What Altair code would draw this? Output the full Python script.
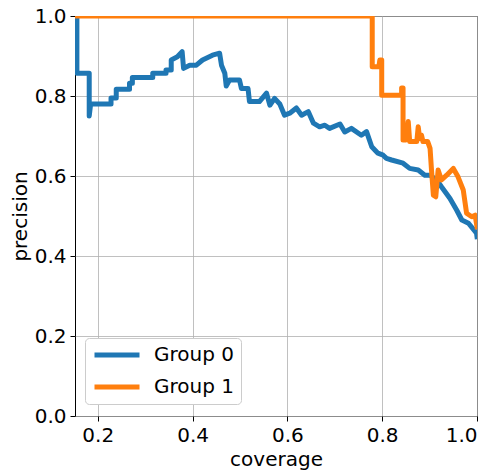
import altair as alt
import pandas as pd

# Group 0 (blue) curve
g0_cov = [0.156, 0.156, 0.182, 0.182, 0.185, 0.228, 0.228, 0.239, 0.239, 0.267, 0.267, 0.273, 0.273,
          0.316, 0.316, 0.344, 0.344, 0.355, 0.355, 0.368, 0.378, 0.381, 0.394, 0.408, 0.421, 0.442,
          0.457, 0.461, 0.468, 0.471, 0.478, 0.499, 0.503, 0.517, 0.520, 0.541, 0.556, 0.563, 0.573,
          0.584, 0.594, 0.605, 0.619, 0.630, 0.644, 0.655, 0.668, 0.679, 0.689, 0.711, 0.721, 0.735,
          0.756, 0.767, 0.778, 0.791, 0.802, 0.809, 0.820, 0.844, 0.858, 0.876, 0.890, 0.901, 0.915,
          0.925, 0.943, 0.957, 0.968, 0.982, 0.999, 1.0]
g0_prec = [1.0, 0.857, 0.857, 0.75, 0.78, 0.78, 0.795, 0.795, 0.817, 0.817, 0.832, 0.832, 0.846,
           0.846, 0.857, 0.857, 0.865, 0.865, 0.89, 0.898, 0.911, 0.869, 0.877, 0.877, 0.89, 0.902,
           0.907, 0.877, 0.857, 0.825, 0.84, 0.84, 0.819, 0.819, 0.786, 0.786, 0.807, 0.777, 0.794,
           0.78, 0.752, 0.757, 0.77, 0.752, 0.761, 0.732, 0.723, 0.727, 0.719, 0.73, 0.71, 0.719,
           0.702, 0.711, 0.673, 0.657, 0.652, 0.644, 0.64, 0.632, 0.619, 0.615, 0.602, 0.602, 0.59,
           0.573, 0.544, 0.515, 0.49, 0.482, 0.457, 0.448]

# Group 1 (orange) curve
g1_cov = [0.152, 0.779, 0.779, 0.793, 0.795, 0.799, 0.799, 0.841, 0.841, 0.844, 0.844, 0.850, 0.855,
          0.858, 0.873, 0.876, 0.879, 0.883, 0.886, 0.896, 0.901, 0.904, 0.908, 0.913, 0.918, 0.925,
          0.936, 0.950, 0.960, 0.971, 0.978, 0.989, 0.996, 1.0]
g1_prec = [1.0, 1.0, 0.873, 0.873, 0.89, 0.89, 0.802, 0.802, 0.82, 0.82, 0.69, 0.69, 0.736,
           0.686, 0.686, 0.723, 0.694, 0.702, 0.686, 0.686, 0.669, 0.615, 0.552, 0.548, 0.615, 0.59,
           0.602, 0.619, 0.598, 0.565, 0.507, 0.498, 0.502, 0.473]

groups = ["Group 0", "Group 1"]
colors = ["#1f77b4", "#ff7f0e"]
x_ticks = [0.2, 0.4, 0.6, 0.8, 1.0]
y_ticks = [0.0, 0.2, 0.4, 0.6, 0.8, 1.0]

rows = []
for i, (c, p) in enumerate(zip(g0_cov, g0_prec)):
    rows.append({"coverage": c, "precision": p, "group": groups[0], "i": i})
for i, (c, p) in enumerate(zip(g1_cov, g1_prec)):
    rows.append({"coverage": c, "precision": p, "group": groups[1], "i": i})
df = pd.DataFrame(rows)

chart = alt.Chart(df).mark_line(
    strokeWidth=5, clip=True, strokeJoin="round", strokeCap="square"
).encode(
    x=alt.X("coverage:Q", scale=alt.Scale(domain=[0.152, 1.0], nice=False, zero=False),
            axis=alt.Axis(values=x_ticks, format=".1f", title="coverage")),
    y=alt.Y("precision:Q", scale=alt.Scale(domain=[0, 1], nice=False),
            axis=alt.Axis(values=y_ticks, format=".1f", title="precision")),
    color=alt.Color("group:N", scale=alt.Scale(domain=groups, range=colors),
                    legend=alt.Legend(title=None, orient="none", legendX=10, legendY=322,
                                      symbolType="M-1,0H5", symbolSize=225, symbolStrokeWidth=5,
                                      labelFontSize=20, labelOffset=42, rowPadding=12,
                                      padding=7, fillColor="white", strokeColor="#cccccc",
                                      cornerRadius=4, labelFont="DejaVu Sans", labelColor="black")),
    detail="group:N",
    order=alt.Order("i:Q"),
).properties(
    width=402, height=400,
    autosize=alt.AutoSizeParams(type="none"),
    padding={"left": 75, "top": 16, "right": 21, "bottom": 57},
).configure_view(
    stroke="black", strokeWidth=1
).configure_axis(
    labelFontSize=20, titleFontSize=20, titleFontWeight="normal",
    labelFont="DejaVu Sans", titleFont="DejaVu Sans",
    labelColor="black", titleColor="black",
    tickColor="black", tickSize=5, tickWidth=1, labelPadding=4,
    gridColor="#b0b0b0", gridWidth=0.8, domain=False, titlePadding=4,
)

chart.save("out.html", embed_options={"renderer": "svg", "actions": False})
